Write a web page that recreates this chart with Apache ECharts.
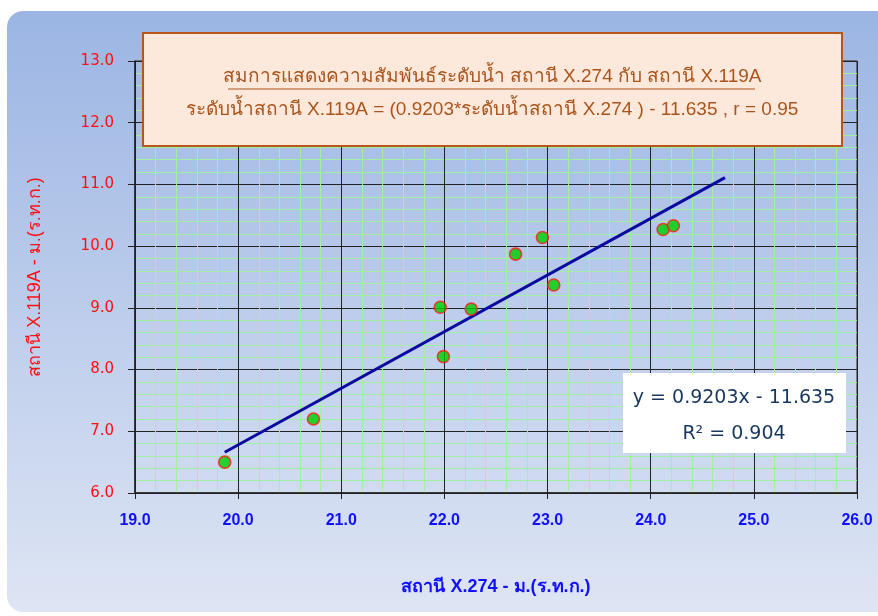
<!DOCTYPE html>
<html>
<head>
<meta charset="utf-8">
<script src="https://cdn.jsdelivr.net/npm/echarts@6/dist/echarts.min.js"></script>
<style>
  html, body { margin: 0; padding: 0; background: #fff; }
  #chart { width: 878px; height: 616px; }
</style>
</head>
<body>
<div id="chart"></div>
<script>
  // ข้อมูลระดับน้ำ (อ่านจากกราฟ)
  const x274 = [19.87, 20.73, 21.96, 21.99, 22.26, 22.69, 22.95, 23.06, 24.12, 24.22]
  const x119A = [6.50, 7.20, 9.01, 8.21, 8.98, 9.87, 10.14, 9.37, 10.27, 10.33]
  // เส้นแนวโน้ม (จุดปลายอ่านจากกราฟ)
  const trendX = [19.87, 24.72]
  const trendY = [6.66, 11.11]

  const titleLine1 = 'สมการแสดงความสัมพันธ์ระดับน้ำ สถานี X.274 กับ สถานี X.119A'
  const titleLine2 = 'ระดับน้ำสถานี X.119A = (0.9203*ระดับน้ำสถานี X.274 ) - 11.635 , r = 0.95'
  const eqLines = ['y = 0.9203x - 11.635', 'R² = 0.904']

  const chart = echarts.init(document.getElementById('chart'))

  const option = {
    animation: false,
    grid: { left: 135, right: 21, top: 61, bottom: 123, show: true, borderColor: '#222', borderWidth: 1 },
    xAxis: {
      type: 'value', min: 19, max: 26, interval: 1,
      name: 'สถานี X.274 - ม.(ร.ท.ก.)', nameLocation: 'middle', nameGap: 85,
      nameTextStyle: { color: '#1010ff', fontSize: 18, fontWeight: 'bold', fontFamily: 'sans-serif' },
      axisLine: { show: true, lineStyle: { color: '#222', width: 1.5 } },
      axisTick: { show: true, inside: false, length: 6, lineStyle: { color: '#222' } },
      axisLabel: { color: '#1010ff', fontSize: 16, margin: 20, fontWeight: 'bold',
        fontFamily: 'Liberation Sans Narrow, Arial Narrow, sans-serif',
        formatter: v => v.toFixed(1) },
      splitLine: { show: true, lineStyle: { color: '#222', width: 1 } },
      minorTick: { show: false, splitNumber: 5 },
      minorSplitLine: { show: true, lineStyle: { color: '#9ff09f', width: 1 } }
    },
    yAxis: {
      type: 'value', min: 6, max: 13, interval: 1,
      name: 'สถานี X.119A - ม.(ร.ท.ก.)', nameLocation: 'middle', nameGap: 91, nameRotate: 90,
      nameTextStyle: { color: '#ff1010', fontSize: 18, fontFamily: 'sans-serif' },
      axisLine: { show: true, lineStyle: { color: '#222', width: 1.5 } },
      axisTick: { show: true, length: 7, lineStyle: { color: '#222' } },
      axisLabel: { color: '#ff1010', fontSize: 15, margin: 21, fontFamily: 'DejaVu Sans, sans-serif',
        formatter: v => v.toFixed(1) },
      splitLine: { show: true, lineStyle: { color: '#222', width: 1 } },
      minorTick: { show: false, splitNumber: 5 },
      minorSplitLine: { show: true, lineStyle: { color: '#9ff09f', width: 1 } }
    },
    graphic: [
      {
        type: 'rect', z: -10, silent: true,
        shape: { x: 7, y: 11, width: 900, height: 601, r: 16 },
        style: {
          fill: new echarts.graphic.LinearGradient(0, 0, 0, 1, [
            { offset: 0, color: '#9bb5e3' },
            { offset: 1, color: '#dee5f4' }
          ])
        }
      },
      // กล่องหัวเรื่อง
      { type: 'rect', z: 100, shape: { x: 143, y: 33, width: 699, height: 113 },
        style: { fill: '#fde9dc', stroke: '#b5561a', lineWidth: 2 } },
      { type: 'text', z: 101, x: 492, y: 77,
        style: { text: titleLine1, fill: '#a8541c', fontSize: 19, fontFamily: 'sans-serif',
          align: 'center', verticalAlign: 'middle' } },
      { type: 'line', z: 101, shape: { x1: 228, y1: 89, x2: 755, y2: 89 },
        style: { stroke: '#a8541c', lineWidth: 1.2 } },
      { type: 'text', z: 101, x: 492, y: 110,
        style: { text: titleLine2, fill: '#a8541c', fontSize: 19, fontFamily: 'sans-serif',
          align: 'center', verticalAlign: 'middle' } },
      // กล่องสมการ
      { type: 'rect', z: 100, shape: { x: 623, y: 373, width: 223, height: 80 },
        style: { fill: '#ffffff' } },
      { type: 'text', z: 101, x: 734, y: 398,
        style: { text: eqLines[0], fill: '#17375e', fontSize: 19, fontFamily: 'DejaVu Sans, sans-serif',
          align: 'center', verticalAlign: 'middle' } },
      { type: 'text', z: 101, x: 734, y: 434,
        style: { text: eqLines[1], fill: '#17375e', fontSize: 19, fontFamily: 'DejaVu Sans, sans-serif',
          align: 'center', verticalAlign: 'middle' } }
    ],
    series: [
      {
        type: 'line',
        data: trendX.map((x, i) => [x, trendY[i]]),
        showSymbol: false,
        lineStyle: { color: '#0a0aa0', width: 3 },
        z: 3
      },
      {
        type: 'scatter',
        data: x274.map((x, i) => [x, x119A[i]]),
        symbolSize: 12,
        itemStyle: { color: '#00cc00', borderColor: '#ff1a1a', borderWidth: 1.6 },
        z: 4
      }
    ]
  }
  chart.setOption(option)
</script>
</body>
</html>
